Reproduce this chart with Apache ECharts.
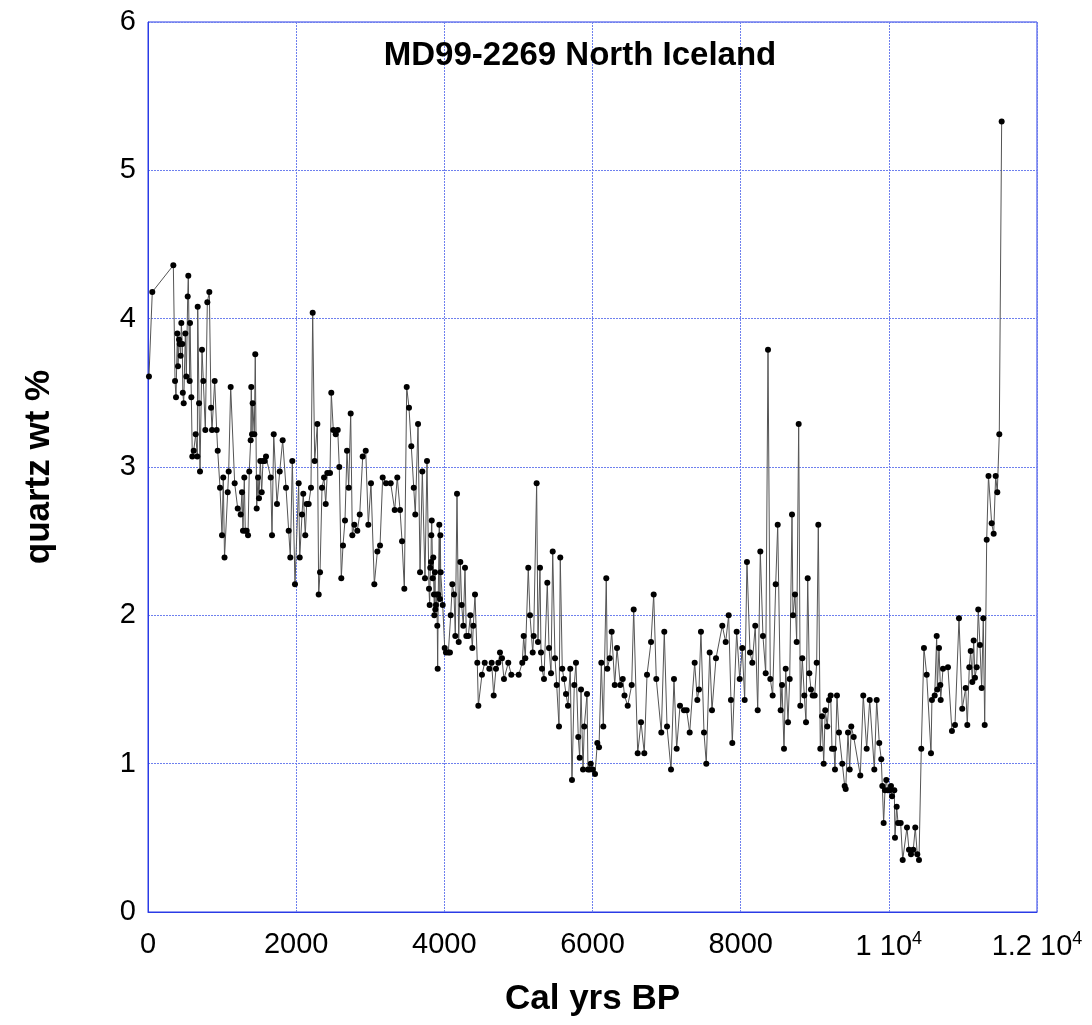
<!DOCTYPE html>
<html>
<head>
<meta charset="utf-8">
<script src="https://cdn.jsdelivr.net/npm/echarts@6/dist/echarts.min.js"></script>
<style>
  html, body { margin: 0; padding: 0; background: #fff; }
  #chart { width: 1092px; height: 1025px; }
</style>
</head>
<body>
<div id="chart"></div>
<script>
// MD99-2269 quartz record, [cal yrs BP, quartz wt %]
const seg0to1k = [
  [13,3.61],[58,4.18],[342,4.36],[365,3.58],[378,3.47],[396,3.90],[405,3.68],[419,3.86],
  [428,3.83],[441,3.75],[450,3.97],[463,3.83],[470,3.50],[482,3.43],[504,3.90],[517,3.61],
  [536,4.15],[544,4.29],[563,3.58],[567,3.97],[585,3.47],[598,3.07],[617,3.11],[644,3.22],
  [666,3.07],[671,4.08],[689,3.43],[702,2.97],[729,3.79],[747,3.58],[774,3.25],[801,4.11],
  [828,4.18],[851,3.40],[864,3.25],[900,3.58],[927,3.25],[941,3.11],[972,2.86],[999,2.54]
];
const seg1to2k = [
  [1016,2.93],[1033,2.39],[1076,2.83],[1089,2.97],[1116,3.54],[1170,2.89],[1211,2.72],
  [1251,2.68],[1269,2.83],[1282,2.57],[1300,2.93],[1313,2.57],[1332,2.57],[1350,2.54],
  [1367,2.97],[1386,3.18],[1394,3.54],[1404,3.22],[1413,3.43],[1435,3.22],[1448,3.76],
  [1467,2.72],[1485,2.93],[1498,2.79],[1516,3.04],[1535,2.83],[1552,3.04],[1575,3.04],
  [1593,3.07],[1656,2.93],[1674,2.54],[1697,3.22],[1741,2.75],[1778,2.97],[1818,3.18],
  [1863,2.86],[1899,2.57],[1921,2.39],[1948,3.04],[1984,2.21]
];
const seg2to3k = [
  [2034,2.89],[2048,2.39],[2079,2.68],[2096,2.82],[2123,2.54],[2142,2.75],[2169,2.75],
  [2200,2.86],[2223,4.04],[2250,3.04],[2286,3.29],[2304,2.14],[2322,2.29],[2349,2.86],
  [2376,2.93],[2399,2.75],[2420,2.96],[2457,2.96],[2474,3.50],[2501,3.25],[2534,3.22],
  [2561,3.25],[2582,3.00],[2609,2.25],[2632,2.47],[2659,2.64],[2686,3.11],[2709,2.86],
  [2736,3.36],[2758,2.54],[2785,2.61],[2825,2.57],[2858,2.68],[2898,3.07],[2939,3.11],
  [2974,2.61]
];
const seg3to4k = [
  [3010,2.89],[3055,2.21],[3096,2.43],[3132,2.47],[3168,2.93],[3213,2.89],[3276,2.89],
  [3330,2.71],[3365,2.93],[3402,2.71],[3429,2.50],[3460,2.18],[3492,3.54],[3523,3.40],
  [3554,3.14],[3587,2.86],[3608,2.68],[3645,3.29],[3672,2.29],[3703,2.97],[3739,2.25],
  [3766,3.04],[3793,2.18],[3802,2.07],[3810,2.32],[3820,2.36],[3824,2.54],[3830,2.64],
  [3843,2.25],[3851,2.39],[3860,2.14],[3865,2.00],[3874,2.29],[3878,2.04],[3887,2.07],
  [3897,2.14],[3905,1.93],[3910,1.64],[3918,2.14],[3932,2.61],[3941,2.11],[3946,2.54],
  [3951,2.29],[3978,2.07]
];
const seg4to5k = [
  [4005,1.78],[4022,1.75],[4054,1.75],[4076,1.75],[4086,2.00],[4108,2.21],[4131,2.14],
  [4148,1.86],[4171,2.82],[4194,1.82],[4216,2.36],[4234,2.07],[4256,1.93],[4279,2.32],
  [4297,1.86],[4324,1.86],[4351,2.00],[4378,1.78],[4391,1.93],[4414,2.14],[4445,1.68],
  [4459,1.39],[4508,1.60],[4545,1.68],[4607,1.64],[4639,1.68],[4666,1.46],[4697,1.64],
  [4729,1.68],[4751,1.75],[4778,1.71],[4805,1.57],[4863,1.68],[4904,1.60]
];
const seg5to6k = [
  [5004,1.60],[5052,1.68],[5071,1.86],[5093,1.71],[5133,2.32],[5156,2.00],[5193,1.75],
  [5206,1.86],[5246,2.89],[5264,1.82],[5291,2.32],[5305,1.75],[5318,1.64],[5345,1.57],
  [5390,2.22],[5413,1.78],[5440,1.61],[5463,2.43],[5494,1.71],[5517,1.53],[5548,1.25],
  [5565,2.39],[5592,1.64],[5615,1.57],[5642,1.47],[5669,1.39],[5700,1.64],[5723,0.89],
  [5754,1.53],[5777,1.68],[5808,1.18],[5827,1.04],[5845,1.50],[5872,0.96],[5889,1.25],
  [5926,1.47],[5939,0.96],[5962,0.96],[5976,1.00]
];
const seg6to7k = [
  [6003,0.96],[6034,0.93],[6065,1.14],[6088,1.11],[6119,1.68],[6146,1.25],[6186,2.25],
  [6200,1.64],[6232,1.71],[6259,1.89],[6300,1.53],[6331,1.78],[6375,1.53],[6408,1.57],
  [6432,1.46],[6475,1.39],[6529,1.53],[6556,2.04],[6610,1.07],[6655,1.28],[6699,1.07],
  [6736,1.60],[6790,1.82],[6826,2.14],[6861,1.57],[6929,1.21],[6969,1.89]
];
const seg7to8k = [
  [7006,1.25],[7060,0.96],[7100,1.57],[7136,1.10],[7181,1.39],[7235,1.36],[7271,1.36],
  [7312,1.21],[7379,1.68],[7415,1.43],[7437,1.50],[7464,1.89],[7505,1.21],[7536,1.00],
  [7582,1.75],[7613,1.36],[7667,1.71],[7752,1.93],[7798,1.82],[7838,2.00],[7869,1.43],
  [7887,1.14],[7946,1.89],[7987,1.57]
];
const seg8to9k = [
  [8022,1.78],[8054,1.43],[8085,2.36],[8126,1.75],[8157,1.68],[8197,1.93],[8230,1.36],
  [8265,2.43],[8301,1.86],[8338,1.61],[8369,3.79],[8400,1.57],[8432,1.46],[8473,2.21],
  [8500,2.61],[8540,1.36],[8558,1.53],[8585,1.10],[8608,1.64],[8639,1.28],[8662,1.57],
  [8693,2.68],[8706,2.00],[8733,2.14],[8756,1.82],[8783,3.29],[8805,1.39],[8832,1.71],
  [8859,1.46],[8882,1.28],[8905,2.25],[8927,1.61],[8949,1.50],[8972,1.46],[8999,1.46]
];
const seg9to10k = [
  [9026,1.68],[9048,2.61],[9075,1.10],[9098,1.32],[9121,1.00],[9142,1.36],[9169,1.25],
  [9192,1.43],[9215,1.46],[9233,1.10],[9260,1.10],[9273,0.96],[9300,1.46],[9327,1.21],
  [9372,1.00],[9404,0.85],[9418,0.83],[9449,1.21],[9472,0.96],[9493,1.25],[9526,1.18],
  [9615,0.92],[9655,1.46],[9701,1.10],[9742,1.43],[9804,0.96],[9836,1.43],[9871,1.14],
  [9898,1.03],[9912,0.85],[9930,0.60],[9948,0.82],[9966,0.89],[9985,0.82]
];
const seg10to11k = [
  [10012,0.82],[10029,0.85],[10043,0.78],[10074,0.82],[10083,0.50],[10106,0.71],
  [10124,0.60],[10160,0.60],[10187,0.35],[10245,0.57],[10272,0.42],[10299,0.39],
  [10330,0.42],[10357,0.57],[10384,0.39],[10407,0.35],[10438,1.10],[10474,1.78],
  [10511,1.60],[10569,1.07],[10582,1.43],[10619,1.46],[10646,1.86],[10654,1.50],
  [10677,1.78],[10695,1.53],[10700,1.43],[10731,1.64],[10798,1.65],[10852,1.22],
  [10893,1.26],[10947,1.98],[10991,1.37]
];
const seg11to12k = [
  [11037,1.51],[11059,1.26],[11086,1.65],[11105,1.76],[11127,1.55],[11145,1.83],
  [11163,1.58],[11186,1.65],[11207,2.04],[11230,1.80],[11253,1.51],[11275,1.98],
  [11294,1.26],[11321,2.51],[11345,2.94],[11388,2.62],[11415,2.55],[11442,2.94],
  [11464,2.83],[11491,3.22],[11523,5.33]
];

const xTicks = [0, 2000, 4000, 6000, 8000, 10000, 12000];
const yTicks = [0, 1, 2, 3, 4, 5, 6];

const quartz = [].concat(seg0to1k, seg1to2k, seg2to3k, seg3to4k, seg4to5k, seg5to6k,
  seg6to7k, seg7to8k, seg8to9k, seg9to10k, seg10to11k, seg11to12k);

const FONT = '"Liberation Sans", Arial, Helvetica, sans-serif';
const BLUE = '#2a3be6';
const GRID_BLUE = '#6e80ee';

function xLabel(v) {
  if (v === 10000) return '1 10{sup|4}';
  if (v === 12000) return '1.2 10{sup|4}';
  return String(v);
}

const chart = echarts.init(document.getElementById('chart'));
chart.setOption({
  backgroundColor: '#ffffff',
  animation: false,
  title: {
    text: 'MD99-2269 North Iceland',
    left: 575,
    top: 34,
    textAlign: 'center',
    textStyle: { fontFamily: FONT, fontSize: 33, fontWeight: 'bold', color: '#000' }
  },
  grid: {
    left: 148, right: 55, top: 22, bottom: 113,
    show: true, borderColor: BLUE, borderWidth: 1, backgroundColor: 'transparent'
  },
  xAxis: {
    type: 'value',
    min: xTicks[0], max: xTicks[xTicks.length - 1], interval: 2000,
    name: 'Cal yrs BP',
    nameLocation: 'middle',
    nameGap: 70,
    nameTextStyle: { fontFamily: FONT, fontSize: 35, fontWeight: 'bold', color: '#000' },
    axisLine: { lineStyle: { color: BLUE, width: 1 } },
    axisTick: { show: false },
    axisLabel: {
      margin: 18,
      color: '#000',
      fontFamily: FONT,
      fontSize: 29,
      formatter: xLabel,
      rich: { sup: { fontSize: 18, verticalAlign: 'top', padding: [0, 0, 16, 0], fontFamily: FONT, color: '#000' } }
    },
    splitLine: { show: true, lineStyle: { color: GRID_BLUE, width: 1, type: [2, 1] } }
  },
  yAxis: {
    type: 'value',
    min: yTicks[0], max: yTicks[yTicks.length - 1], interval: 1,
    name: 'quartz wt %',
    nameLocation: 'middle',
    nameGap: 91,
    nameRotate: 90,
    nameTextStyle: { fontFamily: FONT, fontSize: 35, fontWeight: 'bold', color: '#000' },
    axisLine: { show: true, lineStyle: { color: BLUE, width: 1 } },
    axisTick: { show: false },
    axisLabel: { margin: 12, color: '#000', fontFamily: FONT, fontSize: 29 },
    splitLine: { show: true, lineStyle: { color: GRID_BLUE, width: 1, type: [2, 1] } }
  },
  series: [{
    type: 'line',
    data: quartz,
    symbol: 'circle',
    symbolSize: 6,
    showAllSymbol: true,
    itemStyle: { color: '#000' },
    lineStyle: { color: '#555', width: 1 }
  }]
});
</script>
</body>
</html>
